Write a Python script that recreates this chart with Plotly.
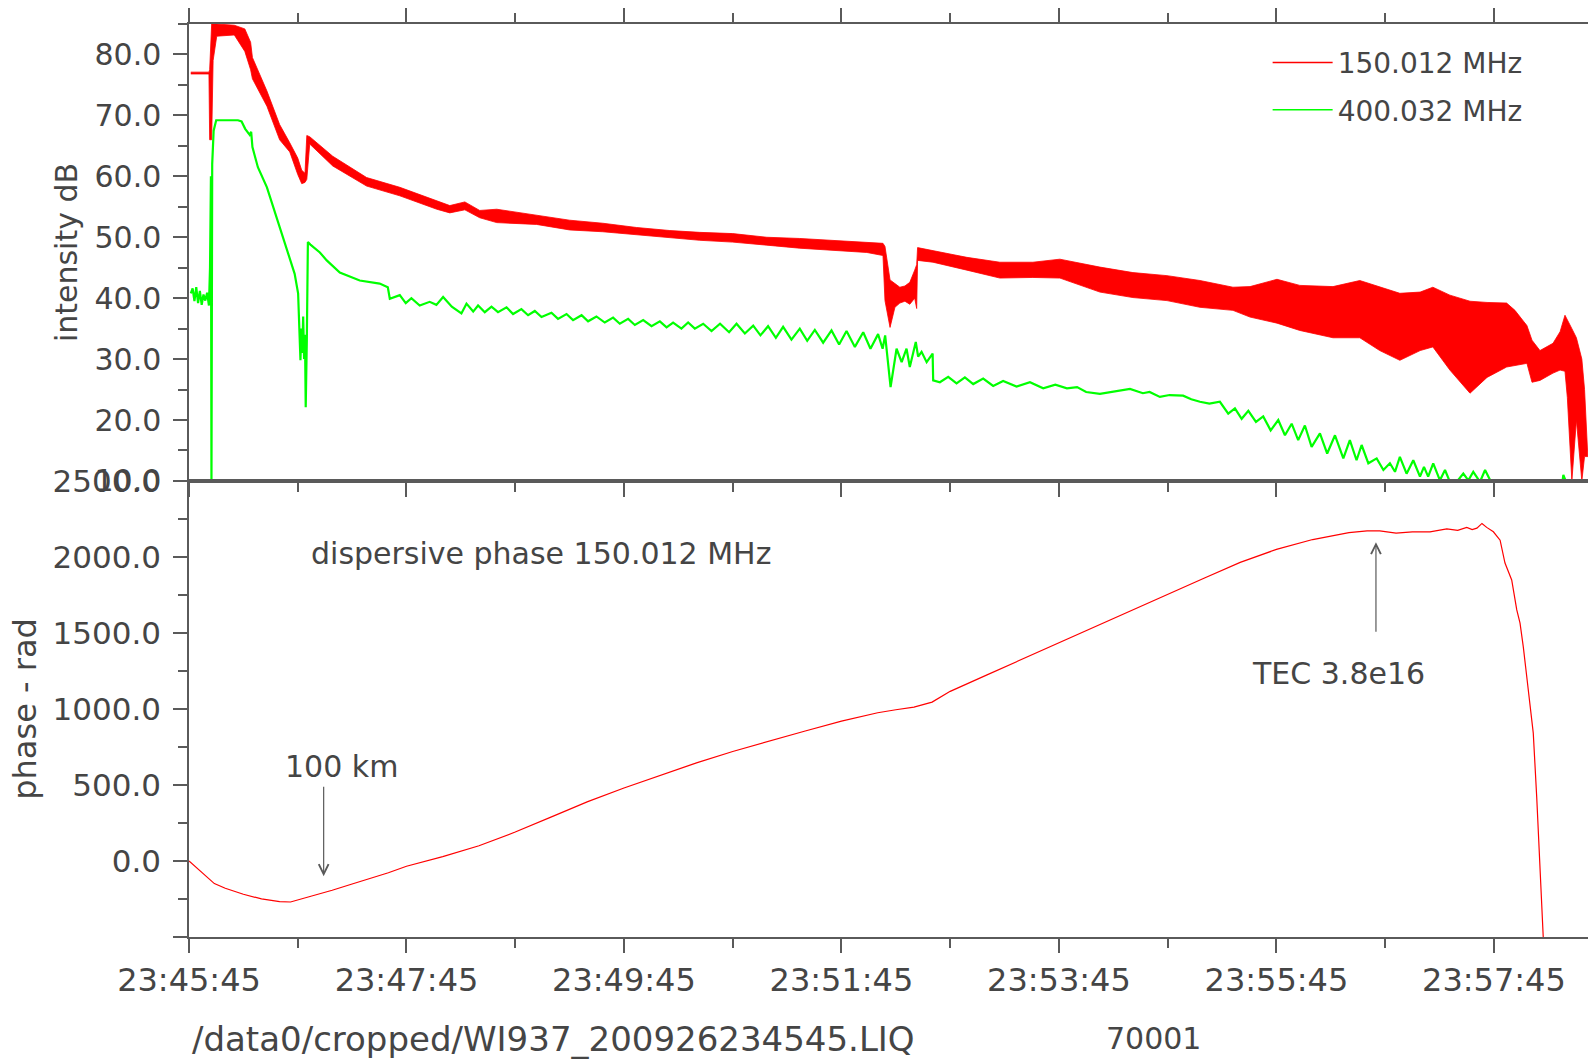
import plotly.graph_objects as go

# ---------------- data (time in seconds after 23:45:45) ----------------
tick_sec = [0, 120, 240, 360, 480, 600, 720]
tick_labels = ["23:45:45", "23:47:45", "23:49:45", "23:51:45", "23:53:45", "23:55:45", "23:57:45"]

# 150.012 MHz intensity: upper / lower envelope of the fast-oscillating band (dB)
t_red = [1, 11, 11.4, 12.5, 13.3, 15.3, 25, 30.8, 34, 35, 43, 50, 55.6, 60, 62.2, 64, 65, 66.6,
         79.3, 98, 116.3, 136.7, 143.9, 152.2, 160.4, 169.8, 191.8, 210, 228.3, 247, 265.3,
         281.8, 300, 318.8, 337, 355.2, 374, 382.9, 384, 386.8, 389.5, 392.2, 395, 397.7,
         400.4, 401.5, 402, 410.5, 429.2, 447.4, 465.6, 480.5, 502.6, 520.8, 539.6, 557.8,
         576, 585.4, 600.3, 612.9, 631.2, 646, 657, 668.1, 679.3, 686.3, 695.7, 706.8, 716.2,
         727, 731.6, 738.2, 741, 745.4, 752.6, 756.5, 759.2, 760.5, 763, 765.5, 768.5, 770, 771.8]
red_hi = [77.1, 77.1, 77.5, 85.0, 85.0, 85.0, 84.8, 84.2, 82.0, 79.5, 74.0, 68.5, 65.5, 63.0, 61.0, 60.5, 66.7, 66.5,
          63.3, 59.8, 58.2, 56.0, 55.2, 55.8, 54.4, 54.6, 53.6, 52.8, 52.3, 51.6, 51.1,
          50.8, 50.6, 50.0, 49.8, 49.5, 49.2, 49.0, 48.5, 43.0, 42.4, 41.8, 42.0, 42.6,
          44.6, 45.5, 48.3, 47.8, 46.7, 45.9, 45.9, 46.4, 45.1, 44.2, 43.7, 42.9,
          41.8, 41.9, 43.1, 42.1, 41.9, 42.9, 41.8, 40.8, 41.0, 41.8, 40.5, 39.5, 39.3,
          39.2, 38.0, 35.5, 33.1, 31.4, 32.6, 34.5, 37.2, 36.5, 35.0, 33.5, 30.0, 25.0, 15.0]
red_lo = [76.8, 76.8, 66.0, 66.0, 79.0, 83.0, 83.2, 80.5, 77.5, 76.0, 71.5, 66.0, 64.0, 60.3, 58.8, 59.0, 59.5, 65.3,
          61.7, 58.4, 56.8, 54.6, 54.0, 54.5, 53.2, 52.4, 52.1, 51.2, 50.9, 50.4, 49.9,
          49.5, 49.2, 48.7, 48.2, 47.8, 47.5, 47.0, 39.6, 35.2, 38.5, 39.2, 39.5, 39.0,
          40.0, 38.3, 46.2, 45.9, 44.6, 43.3, 43.4, 43.3, 41.0, 40.1, 39.6, 38.5,
          38.0, 36.9, 35.9, 34.7, 33.5, 33.5, 31.4, 29.8, 31.4, 32.0, 28.2, 24.4, 27.0,
          28.7, 29.0, 29.3, 26.2, 26.5, 27.7, 28.2, 28.0, 23.7, 10.0, 20.0, 10.0, 14.0, 14.0]

# 400.032 MHz intensity (dB)
t_green = [1, 2, 3, 4, 5, 6, 7, 8, 9, 10, 11, 11.6, 12.1, 12.4, 12.8, 13.6, 15, 27, 29, 31, 33.5, 34.3, 35,
           38, 43, 47, 50, 54, 58.3, 60.2, 60.8, 61.5, 62.0, 62.5, 63.0, 63.5, 64.0, 64.4, 65.0, 65.6,
           67, 72.2, 76, 83.2, 94.2, 105.2, 109.7, 110.8, 116.3, 119.6, 122.7, 127.3, 132.8, 136.5,
           140.2, 145, 150.3, 153.1, 156.8, 159.5, 163.2, 166.9, 170.5, 175.2, 178.8, 183.4, 187.1,
           190.8, 194.5, 200, 203.6, 208.3, 211.9, 216.6, 220.2, 224.8, 229.4, 234, 237.7, 242.3,
           246, 250.6, 255.2, 259.8, 263.5, 267.1, 271.7, 275.4, 279.1, 283.7, 288.3, 293, 298,
           302.1, 306.7, 311.3, 315.3, 319.5, 323.8, 327.8, 332.4, 337, 341.1, 345.3, 349.9, 354.5,
           358.7, 362.8, 367.4, 372, 376, 380.2, 382.7, 384.1, 387.1, 390.4, 393.2, 395.9, 397.7,
           401, 402.3, 404.2, 407, 410.3, 410.6, 414.3, 418.9, 423.5, 428.1, 432.7, 438.2, 443.7,
           449.2, 456.6, 464, 471.3, 478, 484.4, 490, 495, 502.6, 509.8, 515, 519.2, 526.3, 530,
           535.7, 541, 548.5, 553, 557.8, 563, 568.8, 573.4, 577.1, 580.8, 584.5, 588.7, 592.7,
           596.8, 601, 604.7, 608.4, 612, 615.7, 619.4, 624, 628, 632.3, 636.9, 640.5, 644.2, 647,
           650.7, 655.3, 659, 662.6, 665.4, 668.1, 671.8, 675.5, 679.2, 681.4, 683.7, 686.5, 690.2,
           693, 695.7, 699, 703.1, 705.9, 708.6, 712.3, 715.1, 718.8, 722, 757, 758.3, 760.1, 763]
green = [40.8, 41.6, 39.5, 41.8, 39.2, 41.2, 38.9, 40.6, 39.6, 40.9, 38.8, 45, 60, 9.5, 62, 67.5, 69.2, 69.2, 69.0, 67.8, 66.8, 67.3, 64.8,
         61.5, 58.2, 54.5, 51.6, 48.3, 44.0, 40.8, 36, 29.8, 35, 31, 37, 30, 34, 22.1, 33, 49.2,
         48.8, 47.5, 46.2, 44.2, 42.9, 42.4, 41.8, 39.9, 40.5, 39.2, 40.0, 38.8, 39.4, 38.9,
         40.2, 38.6, 37.5, 39.1, 37.8, 38.8, 37.7, 38.6, 37.7, 38.5, 37.4, 38.2, 37.2,
         37.9, 36.9, 37.6, 36.6, 37.4, 36.4, 37.2, 36.2, 37.0, 36.0, 36.8, 35.8, 36.6,
         35.6, 36.4, 35.4, 36.2, 35.2, 36.0, 35.0, 36.0, 35.0, 35.8, 34.6, 35.8, 34.4,
         35.8, 34.2, 35.5, 33.9, 35.4, 33.5, 35.3, 33.2, 35.0, 33.0, 34.8, 32.7, 34.7,
         32.4, 34.6, 32.0, 34.4, 31.7, 34.1, 31.7, 33.9, 25.4, 31.7, 29.5, 31.7, 28.7,
         32.8, 30.4, 31.2, 29.5, 30.9, 26.5, 26.2, 27.1, 26.0, 27.0, 25.9, 26.8, 25.6,
         26.4, 25.5, 26.2, 25.2, 25.8, 25.2, 25.4, 24.6, 24.3, 24.6, 24.9, 25.1, 24.4, 24.6,
         23.8, 24.1, 24.0, 23.4, 23.0, 22.7, 23.0, 21.05, 21.9, 20.2, 21.5, 19.7, 20.6,
         18.3, 20.0, 17.5, 19.4, 16.7, 19.1, 15.6, 17.8, 14.5, 17.5, 13.7, 16.7, 13.4, 15.9,
         12.9, 13.7, 11.8, 12.9, 11.5, 13.95, 11.2, 13.4, 10.7, 12.3, 10.7, 12.9, 10.1,
         11.8, 9.85, 9.7, 11.2, 10.1, 11.5, 9.85, 11.8, 9.6, 8.0, 8.0, 11.0, 9.6, 8.0]

# dispersive phase at 150.012 MHz (rad)
t_phase = [0, 5, 10, 14, 20, 30, 40, 50, 56, 61, 70, 79, 90, 98, 110, 120, 140, 160, 180, 200, 220,
           240, 260, 280, 300, 320, 340, 360, 380, 390, 400, 410, 420, 440, 460, 480, 500, 520,
           540, 560, 580, 600, 620, 640, 650, 657, 666, 675, 684.7, 694, 700, 705, 708, 710.6,
           713.4, 716, 719.7, 723.4, 726.1, 729.8, 732.6, 734.4, 736.2, 739, 741.7, 743.6, 745.4,
           746.9, 747.2]
phase = [0, -55, -105, -149, -180, -219, -250, -268, -270, -254, -225, -193, -152, -123, -78, -35, 28, 100,
         190, 290, 390, 480, 565, 645, 720, 790, 855, 920, 975, 995, 1012, 1045, 1116, 1223,
         1330, 1437, 1543, 1650, 1757, 1860, 1965, 2050, 2115, 2160, 2172, 2172, 2157, 2166,
         2166, 2185, 2175, 2195, 2180, 2190, 2221, 2195, 2166, 2111, 1960, 1849, 1652, 1565,
         1409, 1104, 841, 421, -15, -410, -500]

# ---------------- figure ----------------
FONT = "DejaVu Sans"
TXT = "#454545"
AX = "#5a5a5a"
fig = go.Figure()

band_x = t_red + t_red[::-1]
band_y = red_hi + red_lo[::-1]
fig.add_trace(go.Scatter(x=band_x, y=band_y, mode="lines", fill="toself", fillcolor="#ff0000",
                         line=dict(color="#ff0000", width=0.8), showlegend=False, hoverinfo="skip",
                         xaxis="x", yaxis="y"))
fig.add_trace(go.Scatter(x=t_green, y=green, mode="lines", line=dict(color="#00ff00", width=2.2),
                         showlegend=False, xaxis="x", yaxis="y"))
# legend entries
fig.add_trace(go.Scatter(x=[None], y=[None], mode="lines", line=dict(color="#ff0000", width=1.5),
                         name="150.012 MHz", legendgroup="a", xaxis="x", yaxis="y"))
fig.add_trace(go.Scatter(x=[None], y=[None], mode="lines", line=dict(color="#00ff00", width=1.5),
                         name="400.032 MHz", legendgroup="b", xaxis="x", yaxis="y"))

fig.add_trace(go.Scatter(x=t_phase, y=phase, mode="lines", line=dict(color="#ff0000", width=1.2),
                         showlegend=False, xaxis="x2", yaxis="y2"))

tickfont = dict(family=FONT, size=30, color=TXT)
common = dict(showline=True, linecolor=AX, linewidth=1.5, ticks="outside", tickcolor=AX,
              tickwidth=1.5, ticklen=14, showgrid=False, zeroline=False)
xminor = dict(dtick=60, tick0=0, ticks="outside", ticklen=9, tickcolor=AX, tickwidth=1.5, showgrid=False)

XR = [0, 771.9]
fig.update_layout(
    width=1588, height=1060, autosize=False,
    margin=dict(l=189, r=0, t=24, b=123),
    paper_bgcolor="white", plot_bgcolor="white",
    font=dict(family=FONT, size=30, color=TXT),
    xaxis=dict(domain=[0, 1], anchor="y", range=XR, tickvals=tick_sec, showticklabels=False,
               mirror="ticks", minor=xminor, **common),
    yaxis=dict(domain=[0.4995, 1], anchor="x", range=[9.999, 85.001],
               tickvals=[10, 20, 30, 40, 50, 60, 70, 80], tickformat=".1f", tickfont=tickfont,
               minor=dict(dtick=5, tick0=0, ticks="outside", ticklen=9, tickcolor=AX, tickwidth=1.5, showgrid=False),
               ticklabelstandoff=6,
               title=dict(text="intensity dB", font=dict(family=FONT, size=30, color=TXT), standoff=8),
               **common),
    xaxis2=dict(domain=[0, 1], anchor="y2", range=XR, tickvals=tick_sec, ticktext=tick_labels,
                tickfont=dict(family=FONT, size=32, color=TXT),
                mirror=True, minor=xminor, ticklabelstandoff=0, **common),
    yaxis2=dict(domain=[0, 0.4995], anchor="x2", range=[-500.5, 2500.5],
                tickvals=[-500, 0, 500, 1000, 1500, 2000, 2500],
                ticktext=["", "0.0", "500.0", "1000.0", "1500.0", "2000.0", "2500.0"],
                tickfont=dict(family=FONT, size=31, color=TXT),
                minor=dict(tickvals=[-250, 250, 750, 1250, 1750, 2250], ticks="outside", ticklen=9,
                           tickcolor=AX, tickwidth=1.5, showgrid=False),
                ticklabelstandoff=6,
                title=dict(text="phase - rad", font=dict(family=FONT, size=32, color=TXT), standoff=6),
                **common),
    legend=dict(x=0.771, y=0.985, xanchor="left", yanchor="top", bgcolor="rgba(0,0,0,0)",
                font=dict(family=FONT, size=28, color=TXT), itemwidth=60, tracegroupgap=8,
                traceorder="grouped"),
    showlegend=True,
)

ann = dict(font=dict(family=FONT, size=30, color=TXT), showarrow=False)
fig.add_annotation(x=66.1, y=2026, xref="x2", yref="y2", text="dispersive phase 150.012 MHz",
                   xanchor="left", yanchor="middle", **ann)
fig.add_annotation(x=84.2, y=620, xref="x2", yref="y2", text="100 km", xanchor="center", yanchor="middle", **ann)
fig.add_annotation(x=634.2, y=1232, xref="x2", yref="y2", text="TEC 3.8e16", xanchor="center", yanchor="middle", **ann)
# arrows
fig.add_annotation(x=74.3, y=-100, ax=74.3, ay=498, xref="x2", yref="y2", axref="x2", ayref="y2",
                   text="", showarrow=True, arrowhead=5, arrowsize=1.6, arrowwidth=1.2, arrowcolor=AX)
fig.add_annotation(x=654.9, y=2098, ax=654.9, ay=1499, xref="x2", yref="y2", axref="x2", ayref="y2",
                   text="", showarrow=True, arrowhead=5, arrowsize=1.6, arrowwidth=1.2, arrowcolor=AX)
# footer
fig.add_annotation(x=0.0007, y=-0.1117, xref="paper", yref="paper", text="/data0/cropped/WI937_200926234545.LIQ",
                   xanchor="left", yanchor="middle", font=dict(family=FONT, size=34, color=TXT), showarrow=False)
fig.add_annotation(x=0.654, y=-0.1117, xref="paper", yref="paper", text="70001",
                   xanchor="left", yanchor="middle", font=dict(family=FONT, size=30, color=TXT), showarrow=False)

fig.write_html("out.html", config={"displayModeBar": False},
               post_script="document.body.style.margin='0';document.body.style.overflow='hidden';")
